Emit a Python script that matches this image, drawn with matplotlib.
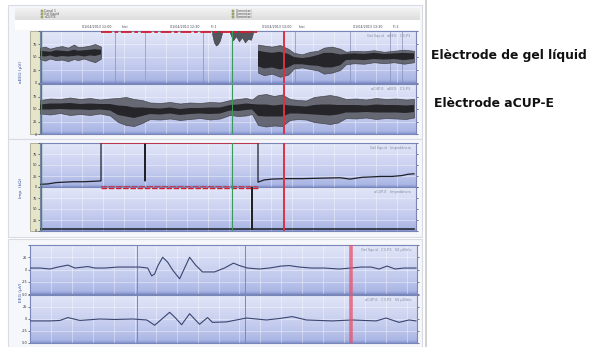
import numpy as np
import matplotlib
matplotlib.use("Agg")
import matplotlib.pyplot as plt
from matplotlib.colors import LinearSegmentedColormap
from matplotlib.patches import Rectangle

W, H = 604, 347

# ---------------- data ----------------
# Group 1 / 2 time base (trend view), t in trend samples
# Panel 1: aEEG, gel electrode (percent of panel range)
a1_t = [0, 5, 10, 16, 22, 28, 34, 38, 44, 50, 55, 61]
a1_hi = [68, 70, 66, 69, 71, 68, 74, 69, 70, 72, 75, 70]
a1_lo = [46, 43, 47, 44, 45, 42, 46, 44, 47, 43, 40, 47]
a1_chi = [62, 61, 60, 63, 62, 61, 64, 62, 63, 64, 65, 64]
a1_clo = [52, 51, 53, 50, 52, 51, 52, 53, 51, 53, 52, 55]

a2_t = [218, 224, 232, 240, 248, 254, 262, 270, 278, 284, 292, 300, 306, 314,
        324, 334, 344, 354, 364, 374]
a2_hi = [74, 72, 70, 73, 66, 58, 55, 60, 62, 68, 70, 66, 60, 62, 61, 63, 60, 62, 64, 62]
a2_lo = [20, 15, 18, 12, 16, 28, 30, 27, 24, 18, 20, 25, 36, 38, 37, 40, 38, 40, 37, 40]
a2_chi = [62, 60, 58, 60, 56, 50, 48, 50, 54, 58, 58, 55, 56, 57, 56, 58, 56, 57, 58, 57]
a2_clo = [32, 28, 30, 26, 30, 36, 36, 34, 33, 30, 30, 34, 44, 45, 44, 46, 45, 46, 44, 46]

art1_t = [172, 174, 176, 178, 180, 182]
art1_lo = [95, 78, 72, 75, 82, 96]
art2_t = [190, 193, 196, 199, 202, 205, 208, 211, 213]
art2_lo = [96, 82, 90, 80, 88, 78, 85, 83, 96]

# Panel 2: aEEG, aCUP-E electrode
b_t = [0, 10, 20, 30, 40, 50, 60, 70, 78, 86, 94, 102, 110, 120, 130, 140, 150,
       160, 170, 180, 190, 198, 206, 212, 218, 226, 234, 242, 250, 258, 266, 274,
       282, 290, 298, 306, 316, 326, 336, 346, 356, 366, 374]
b_hi = [68, 71, 70, 73, 70, 72, 69, 71, 72, 74, 70, 68, 63, 62, 64, 61, 63, 62, 64,
        63, 68, 70, 72, 69, 78, 80, 76, 79, 70, 68, 67, 74, 76, 78, 75, 70, 71, 69,
        72, 70, 71, 69, 70]
b_lo = [41, 39, 42, 38, 40, 38, 41, 37, 24, 18, 16, 22, 30, 29, 31, 28, 30, 32, 29,
        31, 38, 36, 37, 40, 18, 15, 17, 16, 28, 30, 29, 24, 22, 20, 23, 32, 31, 33,
        30, 32, 31, 30, 33]
b_chi = [59, 61, 61, 62, 60, 61, 60, 60, 57, 56, 53, 53, 52, 51, 53, 50, 52, 52, 53,
         53, 58, 59, 61, 60, 59, 59, 57, 59, 57, 56, 55, 58, 59, 59, 58, 58, 58, 57,
         59, 58, 58, 57, 58]
b_clo = [49, 49, 50, 49, 49, 48, 49, 47, 38, 35, 32, 36, 40, 39, 41, 38, 40, 41, 40,
         41, 47, 46, 48, 49, 36, 35, 35, 35, 41, 41, 40, 39, 38, 37, 39, 43, 43, 44,
         43, 43, 43, 42, 44]

# Panel 3 / 4: electrode impedance (kOhm); values above 100 are off scale
imp1_t = [0, 8, 16, 24, 34, 44, 54, 61, 61, 105, 105, 105, 218, 218, 224, 232, 246,
          262, 280, 300, 310, 322, 332, 340, 352, 362, 368, 374]
imp1_v = [6, 7, 10, 11, 12, 12, 13, 14, 150, 150, 14, 150, 150, 11, 16, 18, 19, 19,
          20, 21, 18, 22, 23, 24, 24, 26, 29, 30]
imp2_t = [0, 61, 212, 212, 212, 374]
imp2_v = [4, 4, 4, 150, 4, 4]
off_scale = (61, 218)

# Group 3: raw EEG (uV), t in EEG samples
eeg1_t = [0, 10, 20, 28, 38, 45, 58, 65, 75, 88, 100, 110, 118, 122, 125, 128, 133,
          138, 143, 150, 155, 160, 166, 173, 185, 195, 204, 210, 218, 230, 240, 252,
          260, 270, 282, 295, 310, 322, 332, 342, 350, 358, 366, 375, 387]
eeg1_v = [3, 3, 1, 5, 9, 3, 6, 3, 3, 5, 5, 5, 3, -13, -9, 7, 25, 15, -1, -19, 3, 25,
          9, -5, -5, 3, 13, 8, 3, 1, 3, 7, 8, 5, 3, 3, 1, 3, 5, 5, 1, 7, 1, 3, 3]
eeg2_t = [0, 20, 30, 38, 50, 70, 85, 103, 117, 125, 130, 140, 146, 152, 160, 170,
          178, 183, 197, 217, 237, 250, 263, 277, 290, 303, 323, 335, 347, 357, 370,
          380, 387]
eeg2_v = [-4, -4, -3, 3, -3, 0, -1, 0, -2, -13, -4, 14, 2, -12, 11, -11, 3, -7, -6,
          2, -2, 1, 5, -2, -3, -4, -2, -3, -4, 2, -7, -2, -4]

# event marks
t_green = 192
t_red = 244
t_red_eeg = 322
eeg_dividers = [107, 216]
trend_markers = [75, 105, 163, 255, 310, 350, 362]
event_labels = [(57, "01/04/2013 12:00"), (85, "Inici"), (145, "01/04/2013 12:30"),
                (174, "Fi 1"), (237, "01/04/2013 13:00"), (262, "Inici"),
                (328, "01/04/2013 13:30"), (356, "Fi 2")]

# ---------------- layout ----------------
fig = plt.figure(figsize=(W / 100, H / 100), dpi=100)
fig.patch.set_facecolor("white")


def box(x0, y0, x1, y1):
    return [x0 / W, 1 - y1 / H, (x1 - x0) / W, (y1 - y0) / H]


bg = fig.add_axes([0, 0, 1, 1])
bg.set_xlim(0, W)
bg.set_ylim(H, 0)
bg.axis("off")

# group frames
for (y0, y1) in [(5, 139), (139, 237), (239, 347)]:
    bg.add_patch(Rectangle((8, y0), 414, y1 - y0, facecolor="#f6f7fa",
                           edgecolor="#d9dbe4", lw=0.8))
# header strip with legend
hdr = np.linspace(0, 1, 20).reshape(-1, 1)
bg.imshow(hdr, extent=[15, 420, 20, 8], cmap=LinearSegmentedColormap.from_list(
    "h", ["#f2f2f2", "#dedede"]), aspect="auto", zorder=1)
bg.add_patch(Rectangle((15, 20), 405, 10, facecolor="white", edgecolor="none", zorder=1))
for i, name in enumerate(["Canal 1", "Gel líquid", "aCUP-E"]):
    bg.add_patch(Rectangle((41, 10 + i * 3), 2, 2, facecolor="#c8c860",
                           edgecolor="#707040", lw=0.3, zorder=2))
    bg.text(44.5, 11 + i * 3, name, fontsize=2.3, color="#505050", va="center", zorder=2)
for i, name in enumerate(["Comentari", "Comentari", "Comentari"]):
    bg.add_patch(Rectangle((232, 10 + i * 3), 2, 2, facecolor="#b8c870",
                           edgecolor="#607040", lw=0.3, zorder=2))
    bg.text(235.5, 11 + i * 3, name, fontsize=2.3, color="#505050", va="center", zorder=2)

# beige side strips
for (y0, y1) in [(31, 134), (143, 231)]:
    bg.add_patch(Rectangle((30, y0), 10, y1 - y0, facecolor="#e7e5c9",
                           edgecolor="#a8a890", lw=0.6, zorder=1))

# separator and right-hand captions
bg.plot([426, 426], [0, H], color="#c8c8c8", lw=1.2)
bg.text(431, 55, "Elèctrode de gel líquid", fontsize=8.9, fontweight="bold",
        family="DejaVu Sans", va="center", ha="left", color="#111111")
bg.text(434, 103, "Elèctrode aCUP-E", fontsize=8.9, fontweight="bold",
        family="DejaVu Sans", va="center", ha="left", color="#111111")

# axis titles
for (x, y, s) in [(21, 72, "aEEG (µV)"), (21, 188, "Imp. (kΩ)"), (21, 292, "EEG (µV)")]:
    bg.text(x, y, s, rotation=90, fontsize=3.2, color="#3050a0", ha="center", va="center")

panel_cmap = LinearSegmentedColormap.from_list(
    "panel", [(0.0, "#8696d0"), (0.05, "#aab6e4"), (0.35, "#c3cbee"), (1.0, "#e3e7f8")])
grad = np.linspace(0, 1, 64).reshape(-1, 1)


def panel(rect, xmax, ylim, label):
    ax = fig.add_axes(box(*rect))
    ax.imshow(grad, extent=[0, 1, 0, 1], transform=ax.transAxes, cmap=panel_cmap,
              origin="lower", aspect="auto", zorder=0)
    ax.set_xlim(0, xmax)
    ax.set_ylim(*ylim)
    ax.set_xticks(np.arange(0, xmax, 21))
    ticks = np.linspace(ylim[0], ylim[1], 5)
    ax.set_yticks(ticks)
    ax.grid(True, color="white", alpha=0.45, lw=0.6)
    ax.tick_params(axis="x", length=0, labelbottom=False)
    ax.tick_params(axis="y", length=1.5, width=0.5, color="#404060", labelsize=2.5,
                   labelcolor="#303040", pad=0.5, right=True, direction="out")
    ax.set_yticklabels([f"{v:g}" if i < 4 else "" for i, v in enumerate(ticks)])
    for s in ax.spines.values():
        s.set_color("#7a86b8")
        s.set_linewidth(0.8)
    ax.text(0.985, 0.94, label, transform=ax.transAxes, fontsize=2.5, color="#8088a0",
            ha="right", va="top")
    return ax


TMAX = 376
ax1 = panel((40, 31, 416, 83), TMAX, (0, 100), "Gel líquid   aEEG   C3-P3")
ax2 = panel((40, 84, 416, 134), TMAX, (0, 100), "aCUP-E   aEEG   C3-P3")
ax3 = panel((40, 143, 416, 187), TMAX, (0, 100), "Gel líquid   Impedància")
ax4 = panel((40, 187, 416, 231), TMAX, (0, 100), "aCUP-E   Impedància")
EMAX = 388
ax5 = panel((30, 245, 417, 294), EMAX, (-50, 50), "Gel líquid   C3-P3   50 µV/div")
ax6 = panel((30, 295, 417, 343), EMAX, (-50, 50), "aCUP-E   C3-P3   50 µV/div")


def trace_band(ax, t, lo, hi, clo, chi):
    # outer envelope of the compressed trace, dense core on top
    ax.fill_between(t, lo, hi, facecolor="#55565e", alpha=0.85,
                    edgecolor="#3a3a40", lw=0.5, zorder=3)
    ax.fill_between(t, clo, chi, facecolor="#1e1e22", alpha=0.9, lw=0, zorder=4)


# panel 1
trace_band(ax1, a1_t, a1_lo, a1_hi, a1_clo, a1_chi)
trace_band(ax1, a2_t, a2_lo, a2_hi, a2_clo, a2_chi)
for t, lo in [(art1_t, art1_lo), (art2_t, art2_lo)]:
    ax1.fill_between(t, lo, [100] * len(t), facecolor="#3c3c42", alpha=0.85,
                     lw=0.4, edgecolor="#303036", zorder=3)
ax1.plot(off_scale, [99, 99], color="#d02030", lw=1.3, dashes=(6, 1.5, 2, 1.5), zorder=5,
         clip_on=False)
for tm in trend_markers:
    ax1.axvline(tm, color="#8890b8", lw=0.5, zorder=2)

# panel 2
trace_band(ax2, b_t, b_lo, b_hi, b_clo, b_chi)

# panels 3 and 4: impedance
ax3.plot(imp1_t, imp1_v, color="#202028", lw=0.9, zorder=3)
ax3.plot(off_scale, [99.2, 99.2], color="#d02030", lw=1.1, zorder=5)
ax3.plot(off_scale, [1, 1], color="#d02030", lw=1.1, dashes=(4, 1), zorder=5)
ax4.plot(imp2_t, imp2_v, color="#202028", lw=1.1, zorder=3)
ax4.plot(off_scale, [98, 98], color="#d02030", lw=1.0, dashes=(4, 1.2), zorder=5)

for ax in (ax1, ax2, ax3, ax4):
    ax.axvline(t_green, color="#3a9a5a", lw=0.8, zorder=6)
    ax.axvline(t_red, color="#e03040", lw=1.4, zorder=6)
    ax.axvline(0.6, color="#4a8a4a", lw=1.0, zorder=6)

# group 3: raw EEG
for ax, t, v in [(ax5, eeg1_t, eeg1_v), (ax6, eeg2_t, eeg2_v)]:
    for d in eeg_dividers:
        ax.axvline(d, color="#8088b0", lw=0.7, zorder=2)
    ax.plot(t, v, color="#3a4670", lw=0.8, zorder=3)
    ax.axvline(t_red_eeg, color="#e8506a", lw=2.6, alpha=0.75, zorder=5)

# event labels above the trend panels
for t, s in event_labels:
    x = 40 + t * (376 / TMAX)
    bg.text(x, 27, s, fontsize=2.3, color="#404050", ha="center", va="center", zorder=3)

fig.savefig("out.png", dpi=100, facecolor="white")
